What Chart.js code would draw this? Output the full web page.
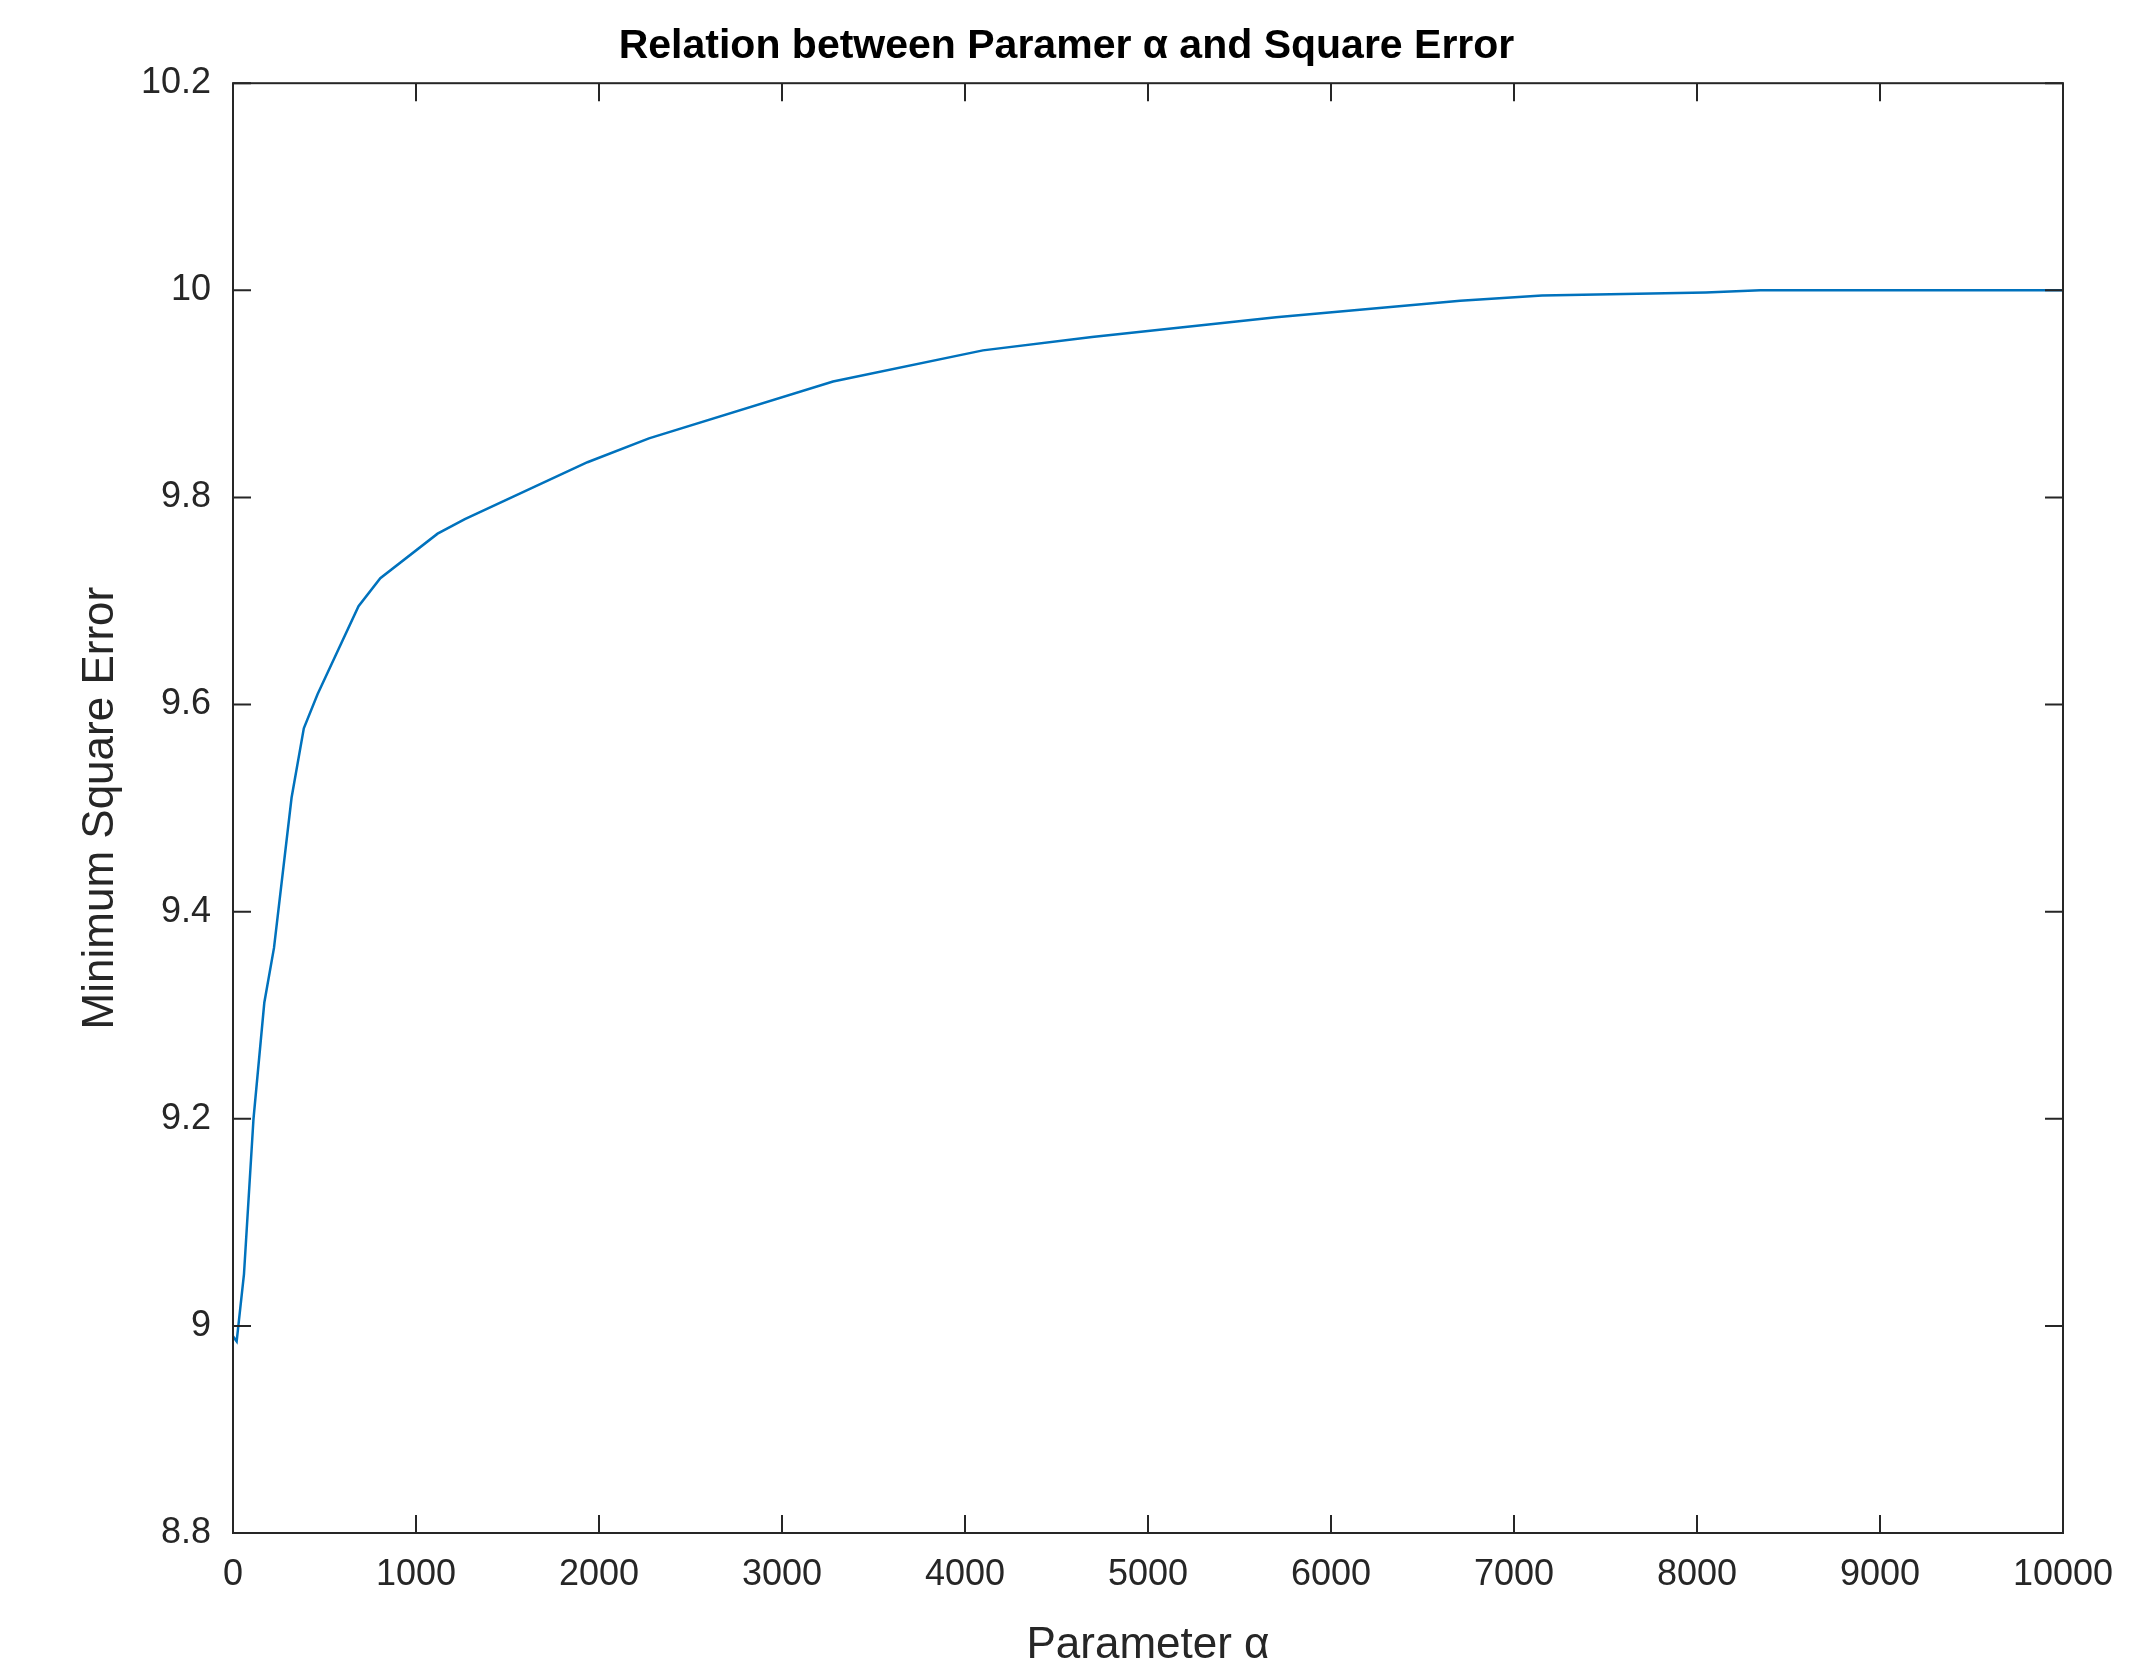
<!DOCTYPE html>
<html>
<head>
<meta charset="utf-8">
<script src="https://cdn.jsdelivr.net/npm/chart.js@4"></script>
<style>
  html,body{margin:0;padding:0;background:#fff;}
  #wrap{width:2139px;height:1676px;}
</style>
</head>
<body>
<div id="wrap"><canvas id="c" width="2139" height="1676"></canvas></div>
<script>
// valores
const alphaVals = [0, 20, 60, 112, 171, 224, 320, 387, 462, 686, 805, 1118, 1267, 1937, 2273, 3279, 4098, 4694, 5700, 6706, 7153, 8048, 8346, 10000];
const erroVals  = [8.99, 8.985, 9.05, 9.2, 9.312, 9.365, 9.51, 9.577, 9.61, 9.695, 9.722, 9.765, 9.779, 9.834, 9.857, 9.912, 9.942, 9.955, 9.974, 9.99, 9.995, 9.998, 10.0, 10.0];
const xTicks = [0,1000,2000,3000,4000,5000,6000,7000,8000,9000,10000];
const yTicks = [8.8,9,9.2,9.4,9.6,9.8,10,10.2];

const txt = '#262626';
const font = 'Liberation Sans, Arial, sans-serif';

// caixa + ticks para dentro (estilo MATLAB)
const boxTicks = {
  id:'boxTicks',
  afterDraw(chart){
    const {ctx, chartArea:a, scales:{x,y}} = chart;
    ctx.save();
    ctx.strokeStyle = txt; ctx.lineWidth = 2;
    ctx.strokeRect(a.left, a.top, a.right-a.left, a.bottom-a.top);
    const L = 18;
    ctx.beginPath();
    xTicks.forEach(v=>{
      const p = x.getPixelForValue(v);
      ctx.moveTo(p,a.bottom); ctx.lineTo(p,a.bottom-L);
      ctx.moveTo(p,a.top); ctx.lineTo(p,a.top+L);
    });
    yTicks.forEach(v=>{
      const p = y.getPixelForValue(v);
      ctx.moveTo(a.left,p); ctx.lineTo(a.left+L,p);
      ctx.moveTo(a.right,p); ctx.lineTo(a.right-L,p);
    });
    ctx.stroke();
    ctx.restore();
  }
};

new Chart(document.getElementById('c'),{
  type:'line',
  data:{
    datasets:[{
      data: alphaVals.map((a,i)=>({x:a,y:erroVals[i]})),
      borderColor:'#0072BD', borderWidth:2.5, pointRadius:0, tension:0, fill:false
    }]
  },
  options:{
    responsive:false, animation:false, devicePixelRatio:1,
    layout:{padding:{left:70,right:76,top:0,bottom:0}},
    plugins:{
      legend:{display:false}, tooltip:{enabled:false},
      title:{display:true, text:'Relation between Paramer α and Square Error', color:'#000',
        font:{family:font,size:41,weight:'bold'}, padding:{top:22,bottom:12}}
    },
    scales:{
      x:{
        type:'linear', min:0, max:10000,
        afterBuildTicks(s){ s.ticks = xTicks.map(v=>({value:v})); },
        afterFit(s){ s.height = 143; },
        grid:{display:false}, border:{display:false},
        ticks:{color:txt, font:{family:font,size:36}, padding:12, maxRotation:0,
          callback:v=>String(v)},
        title:{display:true, text:'Parameter α', color:txt, font:{family:font,size:44}, padding:{top:0}}
      },
      y:{
        type:'linear', min:8.8, max:10.2,
        afterBuildTicks(s){ s.ticks = yTicks.map(v=>({value:v})); },
        afterFit(s){ s.width = 163; },
        grid:{display:false}, border:{display:false},
        ticks:{color:txt, font:{family:font,size:36}, padding:14,
          callback:v=>String(Number(v.toFixed(1)))},
        title:{display:true, text:'Minimum Square Error', color:txt, font:{family:font,size:44}, padding:{bottom:0}}
      }
    }
  },
  plugins:[boxTicks]
});
</script>
</body>
</html>
